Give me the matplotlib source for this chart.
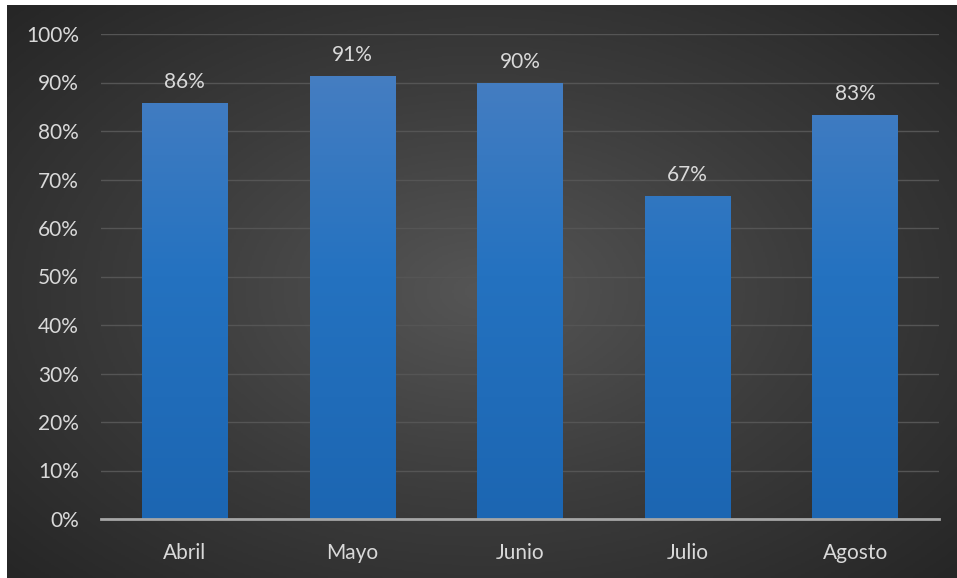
import numpy as np
import matplotlib.pyplot as plt
from matplotlib.colors import LinearSegmentedColormap

# data
months = ['Abril', 'Mayo', 'Junio', 'Julio', 'Agosto']
values = [0.857, 0.914, 0.899, 0.666, 0.833]
yticks = [0.0, 0.1, 0.2, 0.3, 0.4, 0.5, 0.6, 0.7, 0.8, 0.9, 1.0]

font = ['Lato', 'DejaVu Sans']
txt_color = '#d9d9d9'
fs = 15

fig = plt.figure(figsize=(9.57, 5.78), dpi=100, facecolor='white')

# dark radial background
bg = fig.add_axes([7 / 957, 0, 950 / 957, 573 / 578])
bg.set_axis_off()
yy, xx = np.mgrid[-1:1:300j, -1:1:500j]
r = np.sqrt((xx * 0.95) ** 2 + (yy * 0.9) ** 2)
bg_cmap = LinearSegmentedColormap.from_list('bg', ['#555555', '#3c3c3c', '#262626'])
bg.imshow(np.clip(r, 0, 1.4), cmap=bg_cmap, aspect='auto', extent=[0, 1, 0, 1])
bg.set_xlim(0, 1)
bg.set_ylim(0, 1)

ax = fig.add_axes([101 / 957, 59 / 578, 838 / 957, 485 / 578])
ax.patch.set_alpha(0)

bar_cmap = LinearSegmentedColormap.from_list('bar', ['#1c66b2', '#2472c0', '#4c80c2'])
x = np.arange(len(months))
bars = ax.bar(x, values, width=0.51, color='none', zorder=3)
grad = np.linspace(0, 1, 256).reshape(-1, 1)
for b in bars:
    x0 = b.get_x()
    w = b.get_width()
    im = ax.imshow(grad, cmap=bar_cmap, origin='lower', aspect='auto',
                   extent=[x0, x0 + w, 0, 1], zorder=3)
    im.set_clip_path(b)

for xi, v in zip(x, values):
    ax.annotate(f'{v * 100:.0f}%', (xi, v), xytext=(0, 8), textcoords='offset points',
                ha='center', va='bottom', color=txt_color, fontsize=fs, family=font)

ax.set_xlim(-0.5, len(months) - 0.5)
ax.set_ylim(0, 1.0)
ax.set_yticks(yticks)
ax.set_yticklabels([f'{t * 100:.0f}%' for t in yticks], family=font, fontsize=fs, color=txt_color)
ax.set_xticks(x)
ax.set_xticklabels(months, family=font, fontsize=fs, color=txt_color)
ax.tick_params(length=0)
ax.tick_params(axis='y', pad=16)
ax.tick_params(axis='x', pad=17)
ax.grid(axis='y', color='#555555', linewidth=1, zorder=0)
for s in ['top', 'right', 'left']:
    ax.spines[s].set_visible(False)
ax.spines['bottom'].set_color('#a6a6a6')
ax.spines['bottom'].set_linewidth(2)
ax.spines['bottom'].set_zorder(4)

fig.savefig('out.png', dpi=100, facecolor=fig.get_facecolor())
